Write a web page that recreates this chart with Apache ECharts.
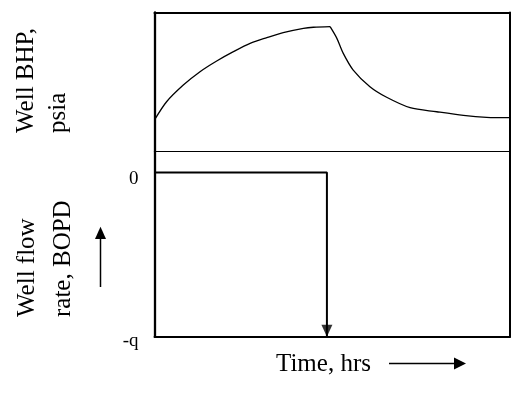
<!DOCTYPE html>
<html>
<head>
<meta charset="utf-8">
<script src="https://cdn.jsdelivr.net/npm/echarts@6/dist/echarts.min.js"></script>
<style>
html,body{margin:0;padding:0;background:#fff;}
#chart{width:521px;height:396px;}
</style>
</head>
<body>
<div id="chart"></div>
<script>
// Data (time in hrs, schematic units)
const timeBefore = [0, 0.34, 0.81, 1.28, 1.75, 2.22, 2.69, 3.16, 3.62, 4.19, 4.47, 4.94];
const bhpBefore  = [22.7, 35.8, 47.8, 57.4, 65.1, 71.8, 77.8, 81.9, 85.5, 88.6, 89.4, 89.8];
const timeAfter  = [4.94, 5.13, 5.31, 5.59, 6.06, 6.53, 7.19, 7.94, 8.69, 9.34, 10];
const bhpAfter   = [89.8, 81.4, 70.6, 58.6, 46.6, 39.0, 31.5, 28.6, 26.0, 24.6, 24.3];
const rateTime   = [0, 4.85, 4.85];
const rateValues = [0, 0, -1];
const rateTickValues = [-1, 0];
const rateTickLabels = ['-q', '0'];

const FONT = '"Liberation Serif", "Times New Roman", serif';
const zip = (a, b) => a.map((v, i) => [v, b[i]]);

const chart = echarts.init(document.getElementById('chart'), null, {renderer: 'canvas'});

const hidden = {axisTick: {show: false}, axisLabel: {show: false}, splitLine: {show: false}};
function xAx(grid, pos, w) {
  return Object.assign({gridIndex: grid, type: 'value', min: 0, max: 10, position: pos,
    axisLine: {show: true, onZero: false, lineStyle: {color: '#000', width: w}}}, hidden);
}

const option = {
  animation: false,
  backgroundColor: '#fff',
  grid: [
    {left: 154.5, top: 12.5, width: 355.5, height: 139, show: false},
    {left: 154.5, top: 151.5, width: 355.5, height: 185.2, show: false}
  ],
  xAxis: [
    xAx(0, 'top', 2),
    xAx(0, 'bottom', 1),
    xAx(1, 'bottom', 2)
  ],
  yAxis: [
    Object.assign({gridIndex: 0, type: 'value', min: 0, max: 100, position: 'left',
      axisLine: {show: true, onZero: false, lineStyle: {color: '#000', width: 2.3}}}, hidden),
    Object.assign({gridIndex: 0, type: 'value', min: 0, max: 100, position: 'right',
      axisLine: {show: true, onZero: false, lineStyle: {color: '#000', width: 2}}}, hidden),
    {gridIndex: 1, type: 'value', min: -1, max: 0.128, interval: 1, position: 'left',
      axisLine: {show: true, onZero: false, lineStyle: {color: '#000', width: 2.3}},
      axisTick: {show: false}, splitLine: {show: false},
      axisLabel: {
        show: true, margin: 16, showMaxLabel: false, color: '#000',
        fontFamily: FONT, fontSize: 19,
        formatter: function (v) {
          const i = rateTickValues.findIndex(t => Math.abs(t - v) < 1e-6);
          return i >= 0 ? '{l' + i + '|' + rateTickLabels[i] + '}' : '';
        },
        rich: {
          l0: {fontFamily: FONT, fontSize: 19, color: '#000', padding: [8, 0, 0, 0]},
          l1: {fontFamily: FONT, fontSize: 19, color: '#000', padding: [14, 0, 0, 0]}
        }
      }},
    Object.assign({gridIndex: 1, type: 'value', min: -1, max: 0.128, position: 'right',
      axisLine: {show: true, onZero: false, lineStyle: {color: '#000', width: 2}}}, hidden)
  ],
  series: [
    {name: 'BHP before shut-in', type: 'line', xAxisIndex: 0, yAxisIndex: 0,
      data: zip(timeBefore, bhpBefore), smooth: 0.3, showSymbol: false,
      lineStyle: {color: '#000', width: 1.3}},
    {name: 'BHP after shut-in', type: 'line', xAxisIndex: 0, yAxisIndex: 0,
      data: zip(timeAfter, bhpAfter), smooth: 0.3, showSymbol: false,
      lineStyle: {color: '#000', width: 1.3}},
    {name: 'Rate', type: 'line', xAxisIndex: 2, yAxisIndex: 2,
      data: zip(rateTime, rateValues), showSymbol: false,
      lineStyle: {color: '#000', width: 2}},
    {name: 'Rate arrow', type: 'scatter', xAxisIndex: 2, yAxisIndex: 2,
      data: [[rateTime[2], rateValues[2]]], symbol: 'triangle', symbolRotate: 180,
      symbolSize: [11, 12], symbolOffset: [0, -6], itemStyle: {color: '#000'}, z: 5}
  ],
  graphic: [
    {type: 'text', x: 26.5, y: 133, rotation: Math.PI / 2,
      style: {text: 'Well BHP,', font: '25px ' + FONT, fill: '#000', align: 'left', verticalAlign: 'middle'}},
    {type: 'text', x: 58, y: 133, rotation: Math.PI / 2,
      style: {text: 'psia', font: '25px ' + FONT, fill: '#000', align: 'left', verticalAlign: 'middle'}},
    {type: 'text', x: 27.5, y: 317, rotation: Math.PI / 2,
      style: {text: 'Well flow', font: '25px ' + FONT, fill: '#000', align: 'left', verticalAlign: 'middle'}},
    {type: 'text', x: 63, y: 317, rotation: Math.PI / 2,
      style: {text: 'rate, BOPD', font: '25px ' + FONT, fill: '#000', align: 'left', verticalAlign: 'middle'}},
    {type: 'text', x: 276, y: 364.5,
      style: {text: 'Time, hrs', font: '25px ' + FONT, fill: '#000', align: 'left', verticalAlign: 'middle'}},
    {type: 'line', shape: {x1: 100.5, y1: 287, x2: 100.5, y2: 237}, style: {stroke: '#000', lineWidth: 1.5}},
    {type: 'polygon', shape: {points: [[100.5, 226.7], [95, 239], [106, 239]]}, style: {fill: '#000'}},
    {type: 'line', shape: {x1: 389, y1: 363.5, x2: 456, y2: 363.5}, style: {stroke: '#000', lineWidth: 1.5}},
    {type: 'polygon', shape: {points: [[466, 363.5], [454, 357.5], [454, 369.5]]}, style: {fill: '#000'}}
  ]
};
chart.setOption(option);
</script>
</body>
</html>
